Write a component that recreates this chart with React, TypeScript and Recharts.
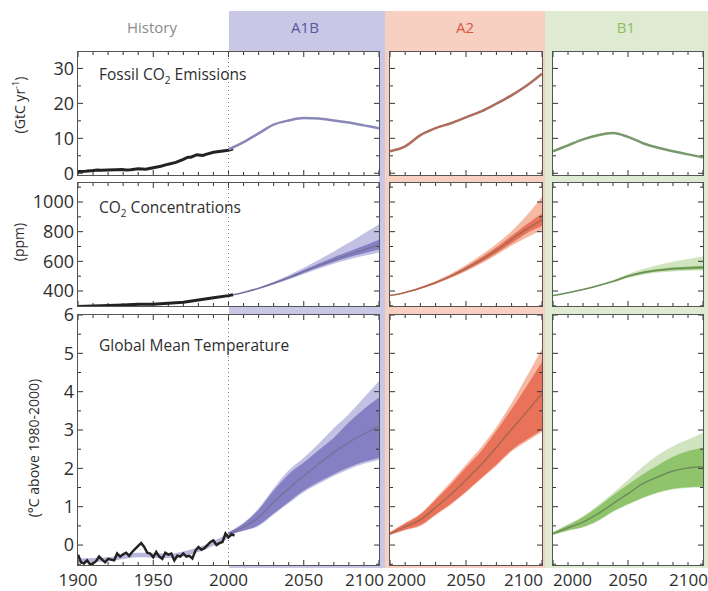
import React from "react";
import { ComposedChart, Line, Area, XAxis, YAxis, ReferenceLine } from "recharts";

const FONT = '"Open Sans", "DejaVu Sans", sans-serif';
const FRAME = "#555";
const TICK = "#333";
const TEXT = "#2e2e2e";

// ---------- historical observations ----------
const emisHistYears = [1900, 1905, 1910, 1913, 1915, 1920, 1925, 1929, 1932, 1935, 1940, 1945, 1950, 1955, 1960, 1965, 1970, 1973, 1975, 1979, 1983, 1985, 1990, 1995, 2000, 2003];
const emisHist = [0.5, 0.6, 0.8, 0.95, 0.85, 0.95, 1.0, 1.05, 0.9, 1.0, 1.3, 1.15, 1.6, 2.0, 2.6, 3.1, 4.0, 4.6, 4.6, 5.3, 5.1, 5.4, 6.0, 6.3, 6.6, 7.0];

const co2HistYears = [1900, 1910, 1920, 1930, 1940, 1950, 1960, 1970, 1980, 1990, 2000, 2003];
const co2Hist = [296, 299, 303, 306, 310, 311, 317, 325, 339, 354, 369, 375];

const tempHistYears = [1900, 1902, 1904, 1906, 1908, 1910, 1912, 1914, 1916, 1918, 1920, 1922, 1924, 1926, 1928, 1930, 1932, 1934, 1936, 1938, 1940, 1942, 1944, 1946, 1948, 1950, 1952, 1954, 1956, 1958, 1960, 1962, 1964, 1966, 1968, 1970, 1972, 1974, 1976, 1978, 1980, 1982, 1984, 1986, 1988, 1990, 1992, 1994, 1996, 1998, 2000, 2002, 2004];
const tempHist = [-0.25, -0.45, -0.48, -0.4, -0.5, -0.48, -0.42, -0.3, -0.38, -0.45, -0.36, -0.38, -0.4, -0.22, -0.3, -0.24, -0.2, -0.28, -0.18, -0.1, -0.02, 0.05, -0.05, -0.2, -0.22, -0.32, -0.18, -0.3, -0.36, -0.2, -0.25, -0.22, -0.4, -0.28, -0.3, -0.22, -0.3, -0.28, -0.35, -0.15, -0.05, -0.12, -0.08, 0.0, 0.08, 0.12, 0.0, 0.05, 0.08, 0.3, 0.2, 0.28, 0.25];

const modelHistYears = [1900, 1920, 1940, 1960, 1980, 2000];
const modelHistLo = [-0.45, -0.42, -0.32, -0.34, -0.18, 0.18];
const modelHistHi = [-0.35, -0.32, -0.2, -0.22, -0.06, 0.3];

// ---------- projections ----------
const projYears = [2000, 2010, 2020, 2030, 2040, 2050, 2060, 2070, 2080, 2090, 2100];

const a1bEmis = [6.8, 8.9, 11.4, 13.9, 15.1, 15.8, 15.7, 15.1, 14.5, 13.7, 12.9];
const a2Emis = [6.3, 7.7, 10.9, 12.9, 14.3, 16.0, 17.7, 19.9, 22.3, 25.1, 28.5];
const b1Emis = [6.3, 8.0, 9.7, 10.9, 11.5, 10.4, 8.6, 7.3, 6.3, 5.4, 4.6];

const a1bCo2 = [369, 390, 418, 452, 490, 532, 572, 610, 645, 678, 708];
const a1bCo2InLo = [369, 389, 415, 447, 483, 522, 560, 595, 627, 655, 680];
const a1bCo2InHi = [369, 391, 421, 457, 497, 542, 585, 628, 667, 705, 745];
const a1bCo2OutLo = [369, 388, 413, 444, 478, 515, 550, 583, 612, 637, 660];
const a1bCo2OutHi = [369, 392, 424, 463, 507, 557, 610, 667, 725, 787, 850];

const a2Co2 = [369, 390, 420, 456, 500, 552, 610, 675, 748, 818, 880];
const a2Co2InLo = [369, 388, 416, 450, 492, 540, 594, 655, 722, 790, 840];
const a2Co2InHi = [369, 392, 424, 462, 508, 564, 626, 695, 772, 850, 920];
const a2Co2OutLo = [369, 387, 414, 447, 487, 534, 585, 643, 706, 760, 812];
const a2Co2OutHi = [369, 393, 427, 467, 516, 575, 642, 717, 803, 910, 1035];

const b1Co2 = [369, 388, 410, 436, 465, 500, 525, 540, 550, 555, 558];
const b1Co2InLo = [369, 387, 408, 433, 461, 494, 517, 531, 540, 544, 546];
const b1Co2InHi = [369, 389, 412, 439, 469, 506, 533, 549, 560, 566, 570];
const b1Co2OutLo = [369, 386, 406, 430, 457, 488, 510, 524, 532, 536, 538];
const b1Co2OutHi = [369, 390, 414, 443, 475, 515, 548, 575, 598, 616, 632];

const a1bTemp = [0.3, 0.47, 0.72, 1.12, 1.48, 1.8, 2.12, 2.42, 2.68, 2.9, 3.1];
const a1bTempInLo = [0.27, 0.38, 0.52, 0.82, 1.12, 1.42, 1.65, 1.85, 2.03, 2.17, 2.28];
const a1bTempInHi = [0.33, 0.56, 0.92, 1.42, 1.85, 2.15, 2.48, 2.8, 3.2, 3.55, 3.85];
const a1bTempOutLo = [0.26, 0.37, 0.5, 0.8, 1.09, 1.38, 1.6, 1.8, 1.98, 2.12, 2.22];
const a1bTempOutHi = [0.34, 0.58, 0.96, 1.48, 1.95, 2.28, 2.65, 3.05, 3.42, 3.85, 4.28];

const a2Temp = [0.3, 0.48, 0.66, 0.98, 1.32, 1.7, 2.1, 2.55, 3.02, 3.48, 3.95];
const a2TempInLo = [0.27, 0.4, 0.52, 0.8, 1.08, 1.4, 1.75, 2.1, 2.48, 2.75, 3.0];
const a2TempInHi = [0.33, 0.56, 0.8, 1.18, 1.58, 2.02, 2.45, 2.98, 3.55, 4.15, 4.78];
const a2TempOutLo = [0.26, 0.39, 0.5, 0.78, 1.05, 1.37, 1.72, 2.06, 2.44, 2.7, 2.95];
const a2TempOutHi = [0.34, 0.58, 0.82, 1.22, 1.65, 2.1, 2.55, 3.08, 3.7, 4.4, 5.12];

const b1Temp = [0.3, 0.45, 0.6, 0.82, 1.08, 1.34, 1.6, 1.78, 1.93, 2.01, 2.04];
const b1TempInLo = [0.27, 0.38, 0.47, 0.64, 0.88, 1.07, 1.24, 1.38, 1.47, 1.51, 1.52];
const b1TempInHi = [0.33, 0.52, 0.73, 1.0, 1.3, 1.58, 1.85, 2.08, 2.3, 2.45, 2.53];
const b1TempOutLo = [0.26, 0.37, 0.46, 0.62, 0.86, 1.05, 1.22, 1.36, 1.45, 1.49, 1.5];
const b1TempOutHi = [0.34, 0.54, 0.75, 1.04, 1.36, 1.7, 2.05, 2.35, 2.58, 2.75, 2.92];

// ---------- axis ticks ----------
const longYearTicks = [1900, 1910, 1920, 1930, 1940, 1950, 1960, 1970, 1980, 1990, 2000, 2010, 2020, 2030, 2040, 2050, 2060, 2070, 2080, 2090, 2100];
const longYearMajor = [1900, 1950, 2000, 2050, 2100];
const shortYearTicks = [2000, 2010, 2020, 2030, 2040, 2050, 2060, 2070, 2080, 2090, 2100];
const shortYearMajor = [2000, 2050, 2100];
const emisTicks = [0, 5, 10, 15, 20, 25, 30];
const emisLabels = [0, 10, 20, 30];
const co2Ticks = [300, 400, 500, 600, 700, 800, 900, 1000, 1100];
const co2Labels = [400, 600, 800, 1000];
const tempTicks = [-0.5, 0, 0.5, 1, 1.5, 2, 2.5, 3, 3.5, 4, 4.5, 5, 5.5, 6];
const tempLabels = [0, 1, 2, 3, 4, 5, 6];

const line = (xs: number[], ys: number[]) => xs.map((year, i) => ({ year, v: ys[i] }));
const band = (xs: number[], lo: number[], hi: number[]) => xs.map((year, i) => ({ year, r: [lo[i], hi[i]] }));

const X_MARGIN = 9;
const Y_MARGIN = 4;

const xLabelTick = (anchors: Record<number, [string, number]>) => (props: any) => {
  const v = props.payload.value;
  const [anchor, dx] = anchors[v] ?? ["middle", 0];
  return (
    <text x={Number(props.x) + dx} y={props.y} dy="0.71em" textAnchor={anchor} fill={TEXT} fontSize={17} fontFamily={FONT}>
      {v}
    </text>
  );
};

// inward frame ticks, drawn as short reference segments in data space
function frameTicks(
  xDomain: [number, number], xTicks: number[], xMajor: number[],
  yDomain: [number, number], yTicks: number[], yMajor: number[], w: number, h: number,
) {
  const perPxX = (xDomain[1] - xDomain[0]) / w;
  const perPxY = (yDomain[1] - yDomain[0]) / h;
  const seg = { stroke: TICK, strokeWidth: 1, ifOverflow: "visible" as const };
  const out: React.ReactNode[] = [];
  xTicks.forEach((t) => {
    const d = (xMajor.includes(t) ? 5 : 3) * perPxY;
    out.push(<ReferenceLine key={`b${t}`} {...seg} segment={[{ x: t, y: yDomain[0] }, { x: t, y: yDomain[0] + d }]} />);
    out.push(<ReferenceLine key={`t${t}`} {...seg} segment={[{ x: t, y: yDomain[1] }, { x: t, y: yDomain[1] - d }]} />);
  });
  yTicks.forEach((t) => {
    const d = (yMajor.includes(t) ? 5 : 3) * perPxX;
    out.push(<ReferenceLine key={`l${t}`} {...seg} segment={[{ x: xDomain[0], y: t }, { x: xDomain[0] + d, y: t }]} />);
    out.push(<ReferenceLine key={`r${t}`} {...seg} segment={[{ x: xDomain[1], y: t }, { x: xDomain[1] - d, y: t }]} />);
  });
  return out;
}

type PanelProps = {
  x: number; y: number; w: number; h: number;
  xDomain: [number, number]; xTicks: number[]; xMajor: number[];
  xLabels?: number[]; xAnchors?: Record<number, [string, number]>;
  yDomain: [number, number]; yTicks: number[]; yMajor: number[]; yLabels?: number[];
  children: React.ReactNode;
};

function Panel({ x, y, w, h, xDomain, xTicks, xMajor, xLabels, xAnchors, yDomain, yTicks, yMajor, yLabels, children }: PanelProps) {
  const yAxisW = yLabels ? 78 : 0;
  const xAxisH = xLabels ? 28 : 0;
  const m = { top: 12, right: 22, bottom: xLabels ? 0 : 12, left: yLabels ? 0 : 8 };
  const width = yAxisW + w + m.left + m.right;
  const height = h + xAxisH + m.top + m.bottom;
  return (
    <>
      <div style={{ position: "absolute", left: x - yAxisW - m.left, top: y - m.top }}>
        <ComposedChart width={width} height={height} margin={m}>
          <XAxis dataKey="year" type="number" domain={xDomain} allowDataOverflow ticks={xLabels ?? xMajor} interval={0}
            hide={!xLabels} height={xAxisH} tickSize={0} tickLine={false} tickMargin={X_MARGIN}
            axisLine={false} tick={xLabelTick(xAnchors ?? {})} />
          <YAxis type="number" domain={yDomain} allowDataOverflow ticks={yLabels ?? yMajor} interval={0}
            hide={!yLabels} width={yAxisW} tickSize={0} tickLine={false} tickMargin={Y_MARGIN}
            axisLine={false} tick={{ fill: TEXT, fontSize: 18, fontFamily: FONT }} />
          {frameTicks(xDomain, xTicks, xMajor, yDomain, yTicks, yMajor, w, h)}
          {children}
        </ComposedChart>
      </div>
      <div style={{ position: "absolute", left: x - 1, top: y - 1, width: w + 2, height: h + 2, boxSizing: "border-box", border: `1px solid ${FRAME}`, pointerEvents: "none" }} />
    </>
  );
}

const scen = {
  a1b: { bg: "#c9c7e6", text: "#58549e", light: "#c3c1e3", dark: "#8480c3", mean: "#77739f", emis: "#8a87b9" },
  a2: { bg: "#f7d0c1", text: "#d8573e", light: "#f5b9a4", dark: "#e8725a", mean: "#a8684f", emis: "#ad6d5c" },
  b1: { bg: "#deead2", text: "#8cc05e", light: "#d1e4c0", dark: "#8fc36c", mean: "#6b8e58", emis: "#789969" },
};

function bands(c: { light: string; dark: string; mean: string }, mean: number[], inLo: number[], inHi: number[], outLo: number[], outHi: number[]) {
  return [
    <Area key="o" data={band(projYears, outLo, outHi)} dataKey="r" type="monotone" fill={c.light} fillOpacity={1} stroke="none" isAnimationActive={false} />,
    <Area key="i" data={band(projYears, inLo, inHi)} dataKey="r" type="monotone" fill={c.dark} fillOpacity={1} stroke="none" isAnimationActive={false} />,
    <Line key="m" data={line(projYears, mean)} dataKey="v" type="monotone" stroke={c.mean} strokeWidth={1.5} dot={false} isAnimationActive={false} />,
  ];
}

const histLine = (xs: number[], ys: number[], w = 3) => (
  <Line data={line(xs, ys)} dataKey="v" type="linear" stroke="#222" strokeWidth={w} dot={false} isAnimationActive={false} />
);

const divider = <ReferenceLine x={2000} stroke="#777" strokeDasharray="1 3" />;

const abs = (s: React.CSSProperties): React.CSSProperties => ({ position: "absolute", ...s });
const Sub = ({ children }: { children: React.ReactNode }) => (
  <span style={{ fontSize: "0.65em", verticalAlign: "-0.35em", lineHeight: 0 }}>{children}</span>
);

const COL_L = { x: 78, w: 301 };
const COL_A2 = { x: 390, w: 152 };
const COL_B1 = { x: 553, w: 150 };
const ROW_E = { y: 52, h: 123 };
const ROW_C = { y: 183, h: 123 };
const ROW_T = { y: 315, h: 250 };

const emisDomain: [number, number] = [-0.5, 34.7];
const co2Domain: [number, number] = [299, 1128];
const tempDomain: [number, number] = [-0.52, 6];

export default function App() {
  const header = (label: string, cx: number, color: string) => (
    <div style={abs({ left: cx, top: 17, transform: "translateX(-50%)", color, fontSize: 15, lineHeight: "20px", fontFamily: FONT })}>{label}</div>
  );
  const title = (content: React.ReactNode, top: number) => (
    <div style={abs({ left: 99, top, color: TEXT, fontSize: 15.5, lineHeight: "20px", fontFamily: FONT, whiteSpace: "nowrap" })}>{content}</div>
  );
  const yLabel = (content: React.ReactNode, cx: number, cy: number) => (
    <div style={abs({ left: cx, top: cy, transform: "translate(-50%, -50%) rotate(-90deg)", color: TEXT, fontSize: 14, fontFamily: FONT, whiteSpace: "nowrap" })}>{content}</div>
  );
  const white = (x: number, y: number, w: number, h: number) => <div style={abs({ left: x, top: y, width: w, height: h, background: "#fff" })} />;

  const sideX = { xDomain: [2000, 2100] as [number, number], xTicks: shortYearTicks, xMajor: shortYearMajor };
  const leftX = { xDomain: [1900, 2100] as [number, number], xTicks: longYearTicks, xMajor: longYearMajor };
  const emisY = { yDomain: emisDomain, yTicks: emisTicks, yMajor: emisLabels };
  const co2Y = { yDomain: co2Domain, yTicks: co2Ticks, yMajor: co2Labels };
  const tempY = { yDomain: tempDomain, yTicks: tempTicks, yMajor: tempLabels };

  return (
    <div style={abs({ left: 0, top: 0, width: 708, height: 591, overflow: "hidden", background: "#fff", fontFamily: FONT })}>
      {/* scenario bands */}
      <div style={abs({ left: 229, top: 11, width: 156, height: 557, background: scen.a1b.bg })} />
      <div style={abs({ left: 385, top: 11, width: 160, height: 557, background: scen.a2.bg })} />
      <div style={abs({ left: 545, top: 11, width: 163, height: 557, background: scen.b1.bg })} />

      {white(COL_L.x, ROW_E.y, COL_L.w, ROW_C.y + ROW_C.h - ROW_E.y)}
      {white(COL_L.x, ROW_T.y, COL_L.w, ROW_T.h)}
      {[COL_A2, COL_B1].flatMap((c, i) => [ROW_E, ROW_C, ROW_T].map((r, j) => <React.Fragment key={`${i}-${j}`}>{white(c.x, r.y, c.w, r.h)}</React.Fragment>))}

      {header("History", 152, "#8a8a8a")}
      {header("A1B", 305, scen.a1b.text)}
      {header("A2", 465, scen.a2.text)}
      {header("B1", 626, scen.b1.text)}

      {/* emissions row */}
      <Panel {...COL_L} {...ROW_E} {...leftX} {...emisY} yLabels={emisLabels}>
        {divider}
        {histLine(emisHistYears, emisHist)}
        <Line data={line(projYears, a1bEmis)} dataKey="v" type="monotone" stroke={scen.a1b.emis} strokeWidth={2.5} dot={false} isAnimationActive={false} />
      </Panel>
      <Panel {...COL_A2} {...ROW_E} {...sideX} {...emisY}>
        <Line data={line(projYears, a2Emis)} dataKey="v" type="monotone" stroke={scen.a2.emis} strokeWidth={2.5} dot={false} isAnimationActive={false} />
      </Panel>
      <Panel {...COL_B1} {...ROW_E} {...sideX} {...emisY}>
        <Line data={line(projYears, b1Emis)} dataKey="v" type="monotone" stroke={scen.b1.emis} strokeWidth={2.5} dot={false} isAnimationActive={false} />
      </Panel>

      {/* concentration row */}
      <Panel {...COL_L} {...ROW_C} {...leftX} {...co2Y} yLabels={co2Labels}>
        {divider}
        {bands(scen.a1b, a1bCo2, a1bCo2InLo, a1bCo2InHi, a1bCo2OutLo, a1bCo2OutHi)}
        {histLine(co2HistYears, co2Hist)}
      </Panel>
      <Panel {...COL_A2} {...ROW_C} {...sideX} {...co2Y}>
        {bands(scen.a2, a2Co2, a2Co2InLo, a2Co2InHi, a2Co2OutLo, a2Co2OutHi)}
      </Panel>
      <Panel {...COL_B1} {...ROW_C} {...sideX} {...co2Y}>
        {bands(scen.b1, b1Co2, b1Co2InLo, b1Co2InHi, b1Co2OutLo, b1Co2OutHi)}
      </Panel>

      {/* temperature row */}
      <Panel {...COL_L} {...ROW_T} {...leftX} {...tempY} yLabels={tempLabels} xLabels={longYearMajor} xAnchors={{ 2100: ["end", 5] }}>
        {divider}
        <Area data={band(modelHistYears, modelHistLo, modelHistHi)} dataKey="r" type="monotone" fill="#a9a6d6" fillOpacity={0.8} stroke="none" isAnimationActive={false} />
        {bands(scen.a1b, a1bTemp, a1bTempInLo, a1bTempInHi, a1bTempOutLo, a1bTempOutHi)}
        {histLine(tempHistYears, tempHist, 2.5)}
      </Panel>
      <Panel {...COL_A2} {...ROW_T} {...sideX} {...tempY} xLabels={shortYearMajor} xAnchors={{ 2000: ["start", -3], 2100: ["end", 1] }}>
        {bands(scen.a2, a2Temp, a2TempInLo, a2TempInHi, a2TempOutLo, a2TempOutHi)}
      </Panel>
      <Panel {...COL_B1} {...ROW_T} {...sideX} {...tempY} xLabels={shortYearMajor} xAnchors={{ 2000: ["start", 0], 2100: ["end", 5] }}>
        {bands(scen.b1, b1Temp, b1TempInLo, b1TempInHi, b1TempOutLo, b1TempOutHi)}
      </Panel>

      {title(<>Fossil CO<Sub>2</Sub> Emissions</>, 64)}
      {title(<>CO<Sub>2</Sub> Concentrations</>, 197)}
      {title(<>Global Mean Temperature</>, 335)}

      {yLabel(<>(GtC yr<sup style={{ fontSize: "0.65em", lineHeight: 0 }}>-1</sup>)</>, 19, 105)}
      {yLabel(<>(ppm)</>, 18, 242)}
      {yLabel(<>(°C above 1980-2000)</>, 33, 448)}
    </div>
  );
}
